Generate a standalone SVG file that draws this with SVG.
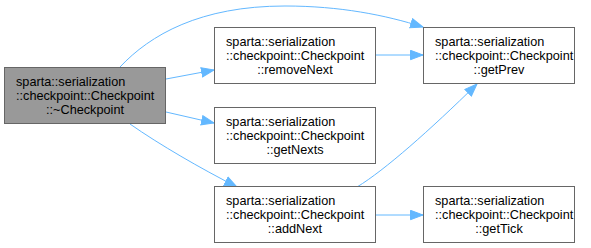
<svg xmlns="http://www.w3.org/2000/svg" width="591" height="248" viewBox="0 0 591 248">
  <style>
    .box { fill: #ffffff; stroke: #666666; stroke-width: 1; }
    .main { fill: #999999; stroke: #666666; stroke-width: 1; }
    .lbl { font-family: "Liberation Sans", Arial, Helvetica, sans-serif; font-size: 12.7px; fill: #000000; }
    .edge { fill: none; stroke: #63b8ff; stroke-width: 1; }
  </style>
  <defs>
    <marker id="arrow" markerWidth="14" markerHeight="11" refX="13" refY="5.5" orient="auto" markerUnits="userSpaceOnUse">
      <path d="M0.5,0.8 L13,5.5 L0.5,10.2 Z" fill="#63b8ff" stroke="#63b8ff"/>
    </marker>
  </defs>

  <g id="edges">
    <path class="edge" marker-end="url(#arrow)" d="M120,67 C150,35 200,6 285,6 C340,6 385,15 423,27"/>
    <path class="edge" marker-end="url(#arrow)" d="M166,79 L214,70"/>
    <path class="edge" marker-end="url(#arrow)" d="M166,112 L214,123"/>
    <path class="edge" marker-end="url(#arrow)" d="M130,124 C160,145 200,168 237,187"/>
    <path class="edge" marker-end="url(#arrow)" d="M376,55 L423,55"/>
    <path class="edge" marker-end="url(#arrow)" d="M357,187 C385,170 430,130 477,84"/>
    <path class="edge" marker-end="url(#arrow)" d="M376,215 L423,215"/>
  </g>

  <g id="node-dtor">
    <rect class="main" x="4.5" y="67.5" width="161" height="56"/>
    <text class="lbl" x="16" y="86">sparta::serialization</text>
    <text class="lbl" x="16" y="100">::checkpoint::Checkpoint</text>
    <text class="lbl" x="85" y="114" text-anchor="middle">::~Checkpoint</text>
  </g>

  <g id="node-removeNext">
    <rect class="box" x="214.5" y="27.5" width="161" height="56"/>
    <text class="lbl" x="226" y="46">sparta::serialization</text>
    <text class="lbl" x="226" y="60">::checkpoint::Checkpoint</text>
    <text class="lbl" x="295" y="74" text-anchor="middle">::removeNext</text>
  </g>

  <g id="node-getPrev">
    <rect class="box" x="423.5" y="27.5" width="151" height="56"/>
    <text class="lbl" x="435" y="46">sparta::serialization</text>
    <text class="lbl" x="435" y="60">::checkpoint::Checkpoint</text>
    <text class="lbl" x="499" y="74" text-anchor="middle">::getPrev</text>
  </g>

  <g id="node-getNexts">
    <rect class="box" x="214.5" y="107.5" width="161" height="56"/>
    <text class="lbl" x="226" y="126">sparta::serialization</text>
    <text class="lbl" x="226" y="140">::checkpoint::Checkpoint</text>
    <text class="lbl" x="295" y="154" text-anchor="middle">::getNexts</text>
  </g>

  <g id="node-addNext">
    <rect class="box" x="214.5" y="186.5" width="161" height="56"/>
    <text class="lbl" x="226" y="205">sparta::serialization</text>
    <text class="lbl" x="226" y="219">::checkpoint::Checkpoint</text>
    <text class="lbl" x="295" y="233" text-anchor="middle">::addNext</text>
  </g>

  <g id="node-getTick">
    <rect class="box" x="423.5" y="186.5" width="151" height="56"/>
    <text class="lbl" x="435" y="205">sparta::serialization</text>
    <text class="lbl" x="435" y="219">::checkpoint::Checkpoint</text>
    <text class="lbl" x="499" y="233" text-anchor="middle">::getTick</text>
  </g>
</svg>
